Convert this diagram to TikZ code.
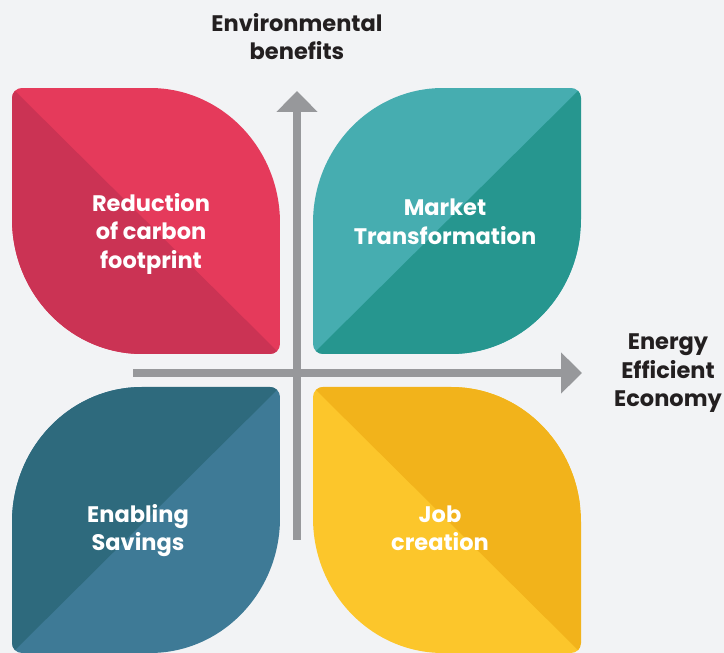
\documentclass[tikz,border=0pt]{standalone}
\usepackage{fontspec}
\setmainfont{Poppins}
\usetikzlibrary{arrows.meta}

\definecolor{pagebg}{HTML}{F2F3F5}
\definecolor{redlight}{HTML}{E53A5B}
\definecolor{reddark}{HTML}{CB3354}
\definecolor{teallight}{HTML}{46ADB0}
\definecolor{tealdark}{HTML}{26968F}
\definecolor{bluelight}{HTML}{3E7A96}
\definecolor{bluedark}{HTML}{2E6A7D}
\definecolor{yellowlight}{HTML}{FCC62B}
\definecolor{yellowdark}{HTML}{F2B31B}
\definecolor{axisgray}{HTML}{97989B}
\definecolor{labelblack}{HTML}{231F20}

\tikzset{
	axis style/.style={
		axisgray,
		line width=8pt,
		-{Triangle[width=40pt,length=21pt]}
	},
	leaf label/.style={
		text=white,
		align=center,
		font=\bfseries\fontsize{22.5}{28.5}\selectfont
	},
	axis label/.style={
		text=labelblack,
		align=center,
		font=\bfseries\fontsize{22.5}{28.5}\selectfont
	}
}

\begin{document}
\begin{tikzpicture}[x=1pt, y=1pt]
		
		% --- 1. Page Background ---
		\fill[pagebg] (0,0) rectangle (724,653);
		\useasboundingbox (0,0) rectangle (724,653);
		
		% --- 2. Leaf Outlines ---
		% Width, height, small corner radius, large corner radii
		\def\lw{268}
		\def\lh{266}
		\def\rs{10}
		\def\rx{130}
		\def\ry{135}
		% Leaf A: small corners top left and bottom right
		\def\leafA{
			(0,\lh-\rs) arc[start angle=180, end angle=90, radius=\rs]
			-- (\lw-\rx,\lh) arc[start angle=90, end angle=0, x radius=\rx, y radius=\ry]
			-- (\lw,\rs) arc[start angle=0, end angle=-90, radius=\rs]
			-- (\rx,0) arc[start angle=270, end angle=180, x radius=\rx, y radius=\ry]
			-- cycle
		}
		% Leaf B: small corners top right and bottom left
		\def\leafB{
			(\rx,\lh) -- (\lw-\rs,\lh) arc[start angle=90, end angle=0, radius=\rs]
			-- (\lw,\ry) arc[start angle=0, end angle=-90, x radius=\rx, y radius=\ry]
			-- (\rs,0) arc[start angle=270, end angle=180, radius=\rs]
			-- (0,\lh-\ry) arc[start angle=180, end angle=90, x radius=\rx, y radius=\ry]
			-- cycle
		}
		
		% --- 3. The Four Leaves ---
		% Top left (red), darker half below the diagonal
		\begin{scope}[shift={(12,299)}]
			\clip \leafA;
			\fill[redlight] (0,0) rectangle (\lw,\lh);
			\fill[reddark] (0,\lh) -- (\lw,0) -- (0,0) -- cycle;
		\end{scope}
		
		% Top right (teal), darker half on the right
		\begin{scope}[shift={(313,299)}]
			\clip \leafB;
			\fill[teallight] (0,0) rectangle (\lw,\lh);
			\fill[tealdark] (0,0) -- (\lw,\lh) -- (\lw,0) -- cycle;
		\end{scope}
		
		% Bottom left (blue), darker half on the left
		\begin{scope}[shift={(12,0)}]
			\clip \leafB;
			\fill[bluelight] (0,0) rectangle (\lw,\lh);
			\fill[bluedark] (0,0) -- (\lw,\lh) -- (0,\lh) -- cycle;
		\end{scope}
		
		% Bottom right (yellow), darker half above the diagonal
		\begin{scope}[shift={(313,0)}]
			\clip \leafA;
			\fill[yellowlight] (0,0) rectangle (\lw,\lh);
			\fill[yellowdark] (0,\lh) -- (\lw,0) -- (\lw,\lh) -- cycle;
		\end{scope}
		
		
		% --- 4. Axes ---
		\coordinate (vbottom) at (297,113);
		\coordinate (vtop) at (297,562);
		\coordinate (hleft) at (133,280);
		\coordinate (hright) at (582,280);
		\draw[axis style] (vbottom) -- (vtop);
		\draw[axis style] (hleft) -- (hright);
		
		
		% --- 5. Labels ---
		\node[axis label] (envlabel) at (297,616.5) {Environmental\\benefits};
		\node[axis label] (economylabel) at (668,279.5) {Energy\\Efficient\\Economy};
		
		\node[leaf label] (carbon) at (151,419.5) {Reduction\\of carbon\\footprint};
		\node[leaf label] (market) at (445,431) {Market\\Transformation};
		\node[leaf label] (savings) at (138,122.5) {Enabling\\Savings};
		\node[leaf label] (jobs) at (440,124.5) {Job\\creation};
		
	\end{tikzpicture}
\end{document}
